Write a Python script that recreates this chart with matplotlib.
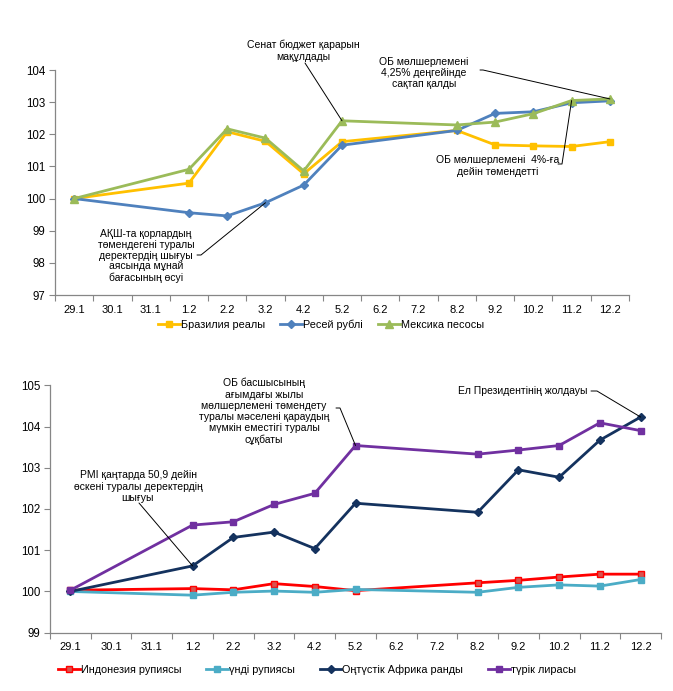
import numpy as np
import matplotlib
matplotlib.use("Agg")
from matplotlib import pyplot as plt

plt.rcParams['font.family'] = ['Liberation Sans', 'DejaVu Sans']

categories = ["29.1", "30.1", "31.1", "1.2", "2.2", "3.2", "4.2", "5.2",
              "6.2", "7.2", "8.2", "9.2", "10.2", "11.2", "12.2"]

# top chart
brazil = [100.0, None, None, 100.48, 102.08, 101.78, 100.77, 101.77,
          None, None, 102.12, 101.67, 101.64, 101.62, 101.77]
russia = [100.0, None, None, 99.56, 99.46, 99.87, 100.42, 101.66,
          None, None, 102.12, 102.65, 102.70, 102.98, 103.04]
mexico = [100.0, None, None, 100.91, 102.17, 101.88, 100.86, 102.42,
          None, None, 102.29, 102.38, 102.64, 103.05, 103.10]

# bottom chart
indonesia = [100.03, None, None, 100.07, 100.04, 100.19, 100.12, 100.02,
             None, None, 100.21, 100.27, 100.35, 100.42, 100.42]
india = [100.0, None, None, 99.91, 99.98, 100.01, 99.98, 100.05,
         None, None, 99.98, 100.10, 100.16, 100.13, 100.29]
s_africa = [100.0, None, None, 100.62, 101.31, 101.44, 101.04, 102.14,
            None, None, 101.92, 102.95, 102.77, 103.67, 104.23]
turkey = [100.03, None, None, 101.61, 101.69, 102.11, 102.38, 103.54,
          None, None, 103.33, 103.43, 103.54, 104.09, 103.90]

W, H = 673, 691
fig = plt.figure(figsize=(W / 100, H / 100), dpi=100)

gray = "#868686"


def px(x, y):
    # pixel position measured from the top-left corner -> figure pixels
    return (x, H - y)


def pts(vals):
    xs = [i for i, v in enumerate(vals) if v is not None]
    ys = [v for v in vals if v is not None]
    return xs, ys


def style_axis(ax, ylo, yhi):
    ax.set_xlim(-0.5, len(categories) - 0.5)
    ax.set_ylim(ylo, yhi)
    ax.set_yticks(range(ylo, yhi + 1))
    ax.set_xticks(np.arange(len(categories) + 1) - 0.5)
    ax.set_xticklabels([])
    ax.set_xticks(range(len(categories)), minor=True)
    ax.set_xticklabels(categories, minor=True)
    ax.tick_params(axis='x', which='major', length=4, color=gray, direction='out')
    ax.tick_params(axis='x', which='minor', length=0, pad=7, labelsize=8)
    ax.tick_params(axis='y', length=4, color=gray, labelsize=8.3, pad=3)
    for s in ['top', 'right']:
        ax.spines[s].set_visible(False)
    for s in ['left', 'bottom']:
        ax.spines[s].set_color(gray)
        ax.spines[s].set_linewidth(0.9)


def leader(ax, start, target, arm=None):
    cs = "arc3"
    if arm:
        cs = "arc,angleA=0,armA=%g,rad=0" % arm
    ax.annotate("", xy=target, xycoords='data', xytext=px(*start),
                textcoords='figure pixels',
                arrowprops=dict(arrowstyle='-', color='black', lw=0.7,
                                shrinkA=0, shrinkB=0, connectionstyle=cs))


def note(txt, x, y, ls=1.2):
    fig.text(x / W, 1 - y / H, txt, ha='center', va='top', fontsize=7.5,
             linespacing=ls, multialignment='center')


# ---------- top chart ----------
ax1 = fig.add_axes([55 / W, 1 - 295 / H, 574 / W, 225 / H])
style_axis(ax1, 97, 104)

for vals, col, mk, ms, lab in [(brazil, "#FFC000", "s", 4.5, "Бразилия реалы"),
                               (russia, "#4F81BD", "D", 4.5, "Ресей рублі"),
                               (mexico, "#9BBB59", "^", 6, "Мексика песосы")]:
    xs, ys = pts(vals)
    ax1.plot(xs, ys, color=col, lw=2, marker=mk, ms=ms, label=lab)

ax1.legend(loc='center', bbox_to_anchor=(321 / W, 1 - 325 / H),
           bbox_transform=fig.transFigure, ncol=3, frameon=False,
           fontsize=7.8, handlelength=2.0, handletextpad=0.1,
           columnspacing=1.4, borderpad=0)

note("Сенат бюджет қарарын\nмақұлдады", 303, 40)
leader(ax1, (305, 63), (7, mexico[7]))
note("ОБ мөлшерлемені\n4,25% деңгейінде\nсақтап қалды", 424, 57, 1.1)
leader(ax1, (480, 70), (14, mexico[14]), arm=3)
note("ОБ мөлшерлемені  4%-ға\nдейін төмендетті", 498, 155)
leader(ax1, (558, 164), (13, mexico[13]), arm=4)
note("АҚШ-та қорлардың\nтөмендегені туралы\nдеректердің шығуы\nаясында мұнай\nбағасының өсуі", 146, 229, 1.1)
leader(ax1, (197, 255), (5, russia[5]), arm=4)

# ---------- bottom chart ----------
ax2 = fig.add_axes([50 / W, 1 - 632.7 / H, 611 / W, 247.4 / H])
style_axis(ax2, 99, 105)

for vals, col, mk, ms, mfc, lab in [
        (indonesia, "#FF0000", "s", 4.5, "#D9534F", "Индонезия рупиясы"),
        (india, "#4BACC6", "s", 4.5, "#4BACC6", "үнді рупиясы"),
        (s_africa, "#14325E", "D", 4.5, "#14325E", "Оңтүстік Африка ранды"),
        (turkey, "#7030A0", "s", 4.5, "#7030A0", "түрік лирасы")]:
    xs, ys = pts(vals)
    ax2.plot(xs, ys, color=col, lw=2, marker=mk, ms=ms, mfc=mfc, mec=col,
             label=lab)

ax2.legend(loc='center', bbox_to_anchor=(317 / W, 1 - 670 / H),
           bbox_transform=fig.transFigure, ncol=4, frameon=False,
           fontsize=7.8, handlelength=2.0, handletextpad=0.1,
           columnspacing=2.3, borderpad=0)

note("PMI қаңтарда 50,9 дейін\nөскені туралы деректердің\nшығуы", 138, 470)
leader(ax2, (139, 503), (3, s_africa[3]))
note("ОБ басшысының\nағымдағы жылы\nмөлшерлемені төмендету\nтуралы мәселені қараудың\nмүмкін еместігі туралы\nсұқбаты", 264, 378, 1.15)
leader(ax2, (336, 408), (7, turkey[7]), arm=4)
fig.text(587 / W, 1 - 391 / H, "Ел Президентінің жолдауы", ha='right',
         va='center', fontsize=7.5)
leader(ax2, (591, 391), (14, s_africa[14]), arm=6)

fig.savefig("out.png", dpi=100)
